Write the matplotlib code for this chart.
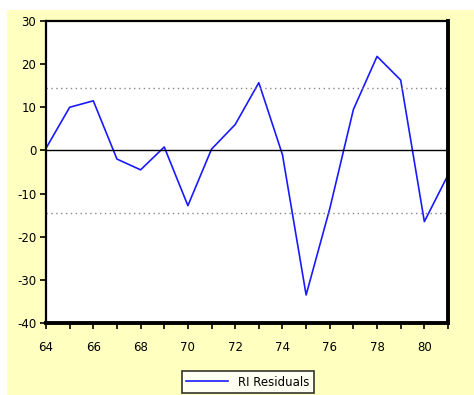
import matplotlib
matplotlib.use("Agg")
import matplotlib.pyplot as plt
from matplotlib.patches import Rectangle

plt.rcParams['axes.unicode_minus'] = False

# residual values by year
years = [64, 65, 66, 67, 68, 69, 70, 71, 72, 73, 74, 75, 76, 77, 78, 79, 80, 81]
residuals = [0.5, 10.0, 11.5, -2.0, -4.5, 0.8, -12.8, 0.3, 6.0, 15.7, -1.0,
             -33.5, -13.5, 9.5, 21.8, 16.3, -16.5, -5.7]
band = 14.5  # +/- 1 std error lines
xtick_labels = ['64', '66', '68', '70', '72', '74', '76', '78', '80']

W, H = 474, 395
fig = plt.figure(figsize=(W / 100, H / 100), dpi=100)
fig.patch.set_facecolor('white')

# yellow panel
fig.patches.append(Rectangle((7 / W, 0), 1 - 7 / W, 1 - 10 / H, transform=fig.transFigure,
                             facecolor='#ffffc0', edgecolor='none', zorder=-10))

ax = fig.add_axes([46 / W, (H - 323) / H, (448 - 46) / W, (323 - 21) / H])
ax.set_zorder(1)
ax.set_facecolor('white')

ax.plot(years, residuals, color='#1a1aff', lw=1.2, label='RI Residuals')
ax.axhline(0, color='black', lw=1.0)
ax.axhline(band, color='#888888', lw=1.0, ls=(0, (1, 2.5)))
ax.axhline(-band, color='#888888', lw=1.0, ls=(0, (1, 2.5)))

ax.set_xlim(64, 81)
ax.set_ylim(-40, 30)
ax.set_yticks(range(-40, 31, 10))
ax.set_xticks(range(64, 81, 2))
ax.set_xticklabels(xtick_labels)
ax.set_xticks(range(64, 82), minor=True)
ax.tick_params(axis='both', which='both', direction='out', length=4, width=1.2,
               labelsize=8.5, pad=3)
ax.tick_params(axis='x', which='major', pad=9)

for side in ['top', 'left']:
    ax.spines[side].set_linewidth(1.6)
for side in ['right', 'bottom']:
    ax.spines[side].set_linewidth(2.8)

leg = fig.legend(loc='center', bbox_to_anchor=(248 / W, (H - 382) / H), frameon=True,
                 fancybox=False, edgecolor='black', fontsize=8.5, handlelength=3.5,
                 borderpad=0.4, handletextpad=0.9, borderaxespad=0)
leg.set_zorder(2)
leg.get_frame().set_linewidth(1.2)
leg.get_frame().set_facecolor('white')

fig.savefig('out.png', dpi=100)
